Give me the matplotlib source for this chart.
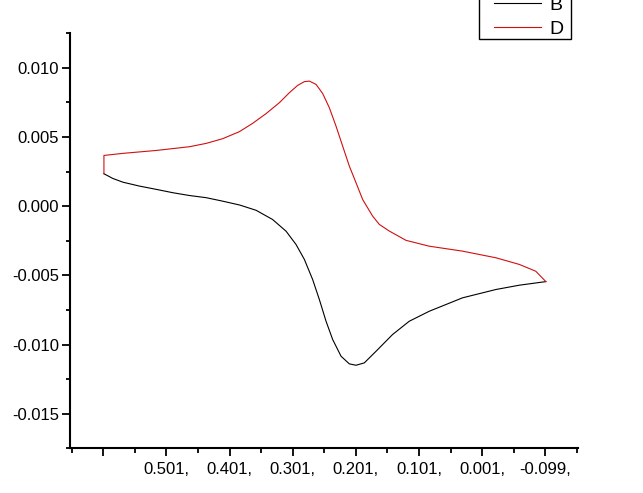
import matplotlib
matplotlib.use("Agg")
import matplotlib.pyplot as plt
import numpy as np
from matplotlib.ticker import MultipleLocator, FixedLocator, FormatStrFormatter

plt.rcParams['font.family'] = ['Liberation Sans', 'DejaVu Sans']
plt.rcParams['axes.unicode_minus'] = False

# forward scan (B), 0.6 V -> -0.1 V
e_b = [0.600, 0.586, 0.570, 0.544, 0.517, 0.491, 0.465, 0.438, 0.412, 0.385,
       0.359, 0.333, 0.3115, 0.2957, 0.2825, 0.2694, 0.2588, 0.2482, 0.2377,
       0.2244, 0.2113, 0.2007, 0.1876, 0.169, 0.1428, 0.1163, 0.0847, 0.0319,
       -0.0209, -0.0578, -0.100]
i_b = [0.00234, 0.00200, 0.00173, 0.00145, 0.00121, 0.00097, 0.00077, 0.00061,
       0.00036, 0.00008, -0.00030, -0.00096, -0.00181, -0.00277, -0.00385,
       -0.00530, -0.00674, -0.00831, -0.00963, -0.01084, -0.01139, -0.01149,
       -0.01132, -0.01048, -0.00927, -0.00831, -0.00759, -0.00662, -0.00602,
       -0.00571, -0.00545]

# reverse scan (D), -0.1 V -> 0.6 V
e_d = [-0.100, -0.084, -0.058, -0.021, 0.032, 0.085, 0.1215, 0.148, 0.1638,
       0.1744, 0.1902, 0.2007, 0.2113, 0.2219, 0.2324, 0.243, 0.2535, 0.264,
       0.2746, 0.2825, 0.2931, 0.3063, 0.3221, 0.3432, 0.3644, 0.3854, 0.4119,
       0.4382, 0.4646, 0.5173, 0.5702, 0.600, 0.600]
i_d = [-0.00545, -0.00470, -0.00421, -0.00373, -0.00325, -0.00289, -0.00247,
       -0.00180, -0.00132, -0.00072, 0.00048, 0.00169, 0.00289, 0.00434,
       0.00578, 0.00711, 0.00813, 0.00879, 0.00903, 0.00899, 0.00872, 0.00819,
       0.00747, 0.00668, 0.00598, 0.00538, 0.00487, 0.00453, 0.00429, 0.00402,
       0.00381, 0.00366, 0.00234]

x_ticks = [0.601, 0.501, 0.401, 0.301, 0.201, 0.101, 0.001, -0.099]
x_labels = ['', '0.501,', '0.401,', '0.301,', '0.201,', '0.101,', '0.001,', '-0.099,']

fig = plt.figure(figsize=(6.43, 4.93), dpi=100)
ax = fig.add_axes([0.1096, 0.0903, 0.7894, 0.8427])

ax.plot(e_b, i_b, color='black', lw=0.8, label='B')
ax.plot(e_d, i_d, color='#d01010', lw=0.8, label='D')

ax.set_xlim(0.653, -0.151)
ax.set_ylim(-0.0175, 0.0125)

ax.xaxis.set_major_locator(FixedLocator(x_ticks))
ax.set_xticklabels(x_labels)
ax.xaxis.set_minor_locator(FixedLocator([t + 0.05 for t in x_ticks] + [-0.149]))
ax.yaxis.set_major_locator(MultipleLocator(0.005))
ax.yaxis.set_minor_locator(MultipleLocator(0.0025))
ax.yaxis.set_major_formatter(FormatStrFormatter('%.3f'))

for s in ['top', 'right']:
    ax.spines[s].set_visible(False)
for s in ['left', 'bottom']:
    ax.spines[s].set_linewidth(1.5)

ax.tick_params(axis='x', which='major', direction='out', length=5.5, width=1.3,
               labelsize=12, pad=4.5)
ax.tick_params(axis='x', which='minor', direction='out', length=3.5, width=1.3)
ax.tick_params(axis='y', which='major', direction='out', length=6, width=1.3,
               labelsize=12, pad=2)
ax.tick_params(axis='y', which='minor', direction='out', length=3, width=1.3)

leg = fig.legend(loc='lower left', bbox_to_anchor=(479 / 643, 1 - 39.3 / 493),
                 borderaxespad=0, fontsize=14, fancybox=False, framealpha=1,
                 edgecolor='black', handlelength=2.8, handletextpad=0.4,
                 labelspacing=0.3, borderpad=0.4)
leg.get_frame().set_linewidth(1.0)
# nudge legend contents: lines start a bit further in, rows sit lower
for line in leg.get_lines():
    xd = line.get_xdata()
    line.set_xdata(np.linspace(xd[0] + 5, xd[-1], len(xd)))
    line.set_ydata(np.asarray(line.get_ydata()) - 4.3)
for t in leg.get_texts():
    t.set_position((0, -6))

fig.savefig('out.png', dpi=100)
